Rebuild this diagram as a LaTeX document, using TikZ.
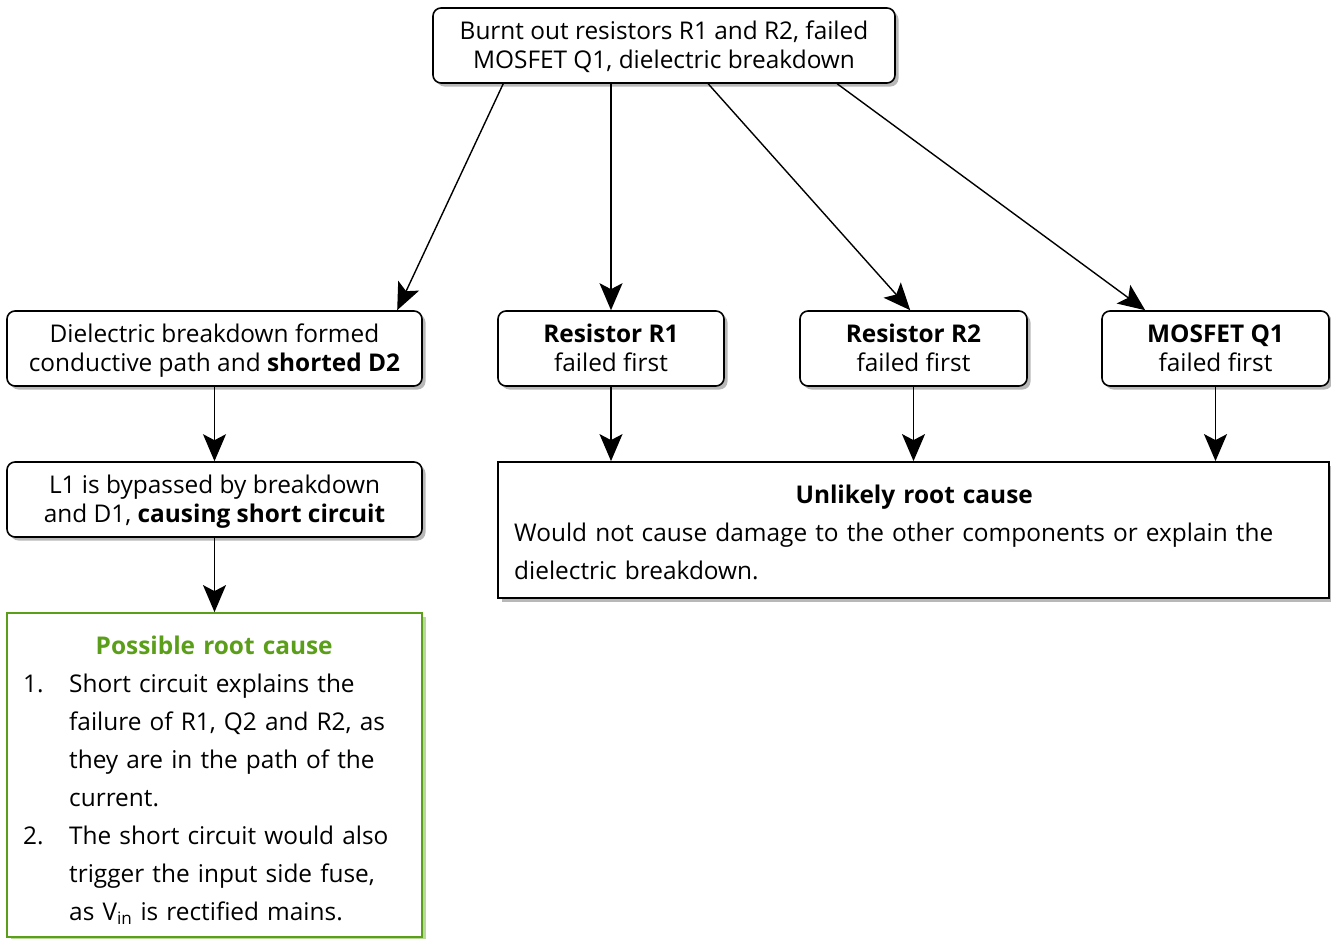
\documentclass[tikz,border=0pt]{standalone}
\usepackage{fontspec}
\setmainfont{Open Sans}
\usetikzlibrary{arrows.meta,shadows}
\definecolor{possgreen}{HTML}{5A9E1A}
\definecolor{shadowgreen}{HTML}{B9D99A}
\newcommand{\bxtext}[2]{\parbox[c][75pt][t]{#1}{\centering\fontsize{24.4}{29}\selectfont
  \vspace*{11.5pt}\rule{0pt}{20pt}#2}}
\tikzset{
  rbox/.style={draw=black, line width=1.6pt, rounded corners=8pt, fill=white,
    drop shadow={shadow xshift=3.5pt, shadow yshift=-3.5pt, fill=black!35, opacity=0.8},
    inner sep=0pt},
  conn/.style={line width=1.4pt, -{Stealth[length=27pt,width=23pt,inset=6pt]}},
  bodytext/.style={anchor=north west, inner sep=0pt, align=left,
    font=\fontsize{24.4}{38}\selectfont},
}
\begin{document}
\begin{tikzpicture}[x=1pt,y=-1pt]
\useasboundingbox (0,0) rectangle (1331,938);
\node[rbox] (top) at (664,45.5)
  {\bxtext{462pt}{Burnt out resistors R1 and R2, failed\\MOSFET Q1, dielectric breakdown}};
\node[rbox] (left1) at (214.5,348.5)
  {\bxtext{415pt}{Dielectric breakdown formed\\conductive path and \textbf{shorted D2}}};
\node[rbox] (r1) at (611,348.5)
  {\bxtext{226pt}{\textbf{Resistor R1}\\failed first}};
\node[rbox] (r2) at (913.5,348.5)
  {\bxtext{227pt}{\textbf{Resistor R2}\\failed first}};
\node[rbox] (q1) at (1215.5,348.5)
  {\bxtext{227pt}{\textbf{MOSFET Q1}\\failed first}};
\node[rbox] (left2) at (214.5,499.5)
  {\bxtext{415pt}{L1 is bypassed by breakdown\\and D1, \textbf{causing short circuit}}};
\node[draw=possgreen, line width=1.8pt, fill=white,
  drop shadow={shadow xshift=3.5pt, shadow yshift=-3.5pt, fill=shadowgreen, opacity=1},
  minimum width=415pt, minimum height=324pt, inner sep=0pt] (poss) at (214.5,775) {};
\node[bodytext, text width=390pt] (posstext) at (23,636)
  {\makebox[382pt][c]{\color{possgreen}\bfseries Possible root cause}\newline
   \makebox[46pt][l]{1.}Short circuit explains the\newline
   \hspace*{46pt}failure of R1, Q2 and R2, as\newline
   \hspace*{46pt}they are in the path of the\newline
   \hspace*{46pt}current.\newline
   \makebox[46pt][l]{2.}The short circuit would also\newline
   \hspace*{46pt}trigger the input side fuse,\newline
   \hspace*{46pt}as V\textsubscript{in} is rectified mains.};
\node[draw=black, line width=1.8pt, fill=white,
  drop shadow={shadow xshift=3.5pt, shadow yshift=-3.5pt, fill=black!35, opacity=0.8},
  minimum width=831pt, minimum height=136pt, inner sep=0pt] (unl) at (913.5,530) {};
\node[bodytext, text width=805pt] (unltext) at (514,484.5)
  {\makebox[800pt][c]{\bfseries Unlikely root cause}\newline
   Would not cause damage to the other components or explain the\newline
   dielectric breakdown.};
\draw[conn] ([xshift=71pt]top.south west) -- ([xshift=391pt]left1.north west);
\draw[conn] (top.south -| r1.north) -- (r1.north);
\draw[conn] ([xshift=276pt]top.south west) -- ([xshift=111pt]r2.north west);
\draw[conn] ([xshift=405pt]top.south west) -- ([xshift=44pt]q1.north west);
\draw[conn] (left1.south) -- (left2.north);
\draw[conn] (left2.south) -- (poss.north);
\draw[conn] (r1.south) -- (r1.south |- unl.north);
\draw[conn] (r2.south) -- (r2.south |- unl.north);
\draw[conn] (q1.south) -- (q1.south |- unl.north);
\end{tikzpicture}
\end{document}
